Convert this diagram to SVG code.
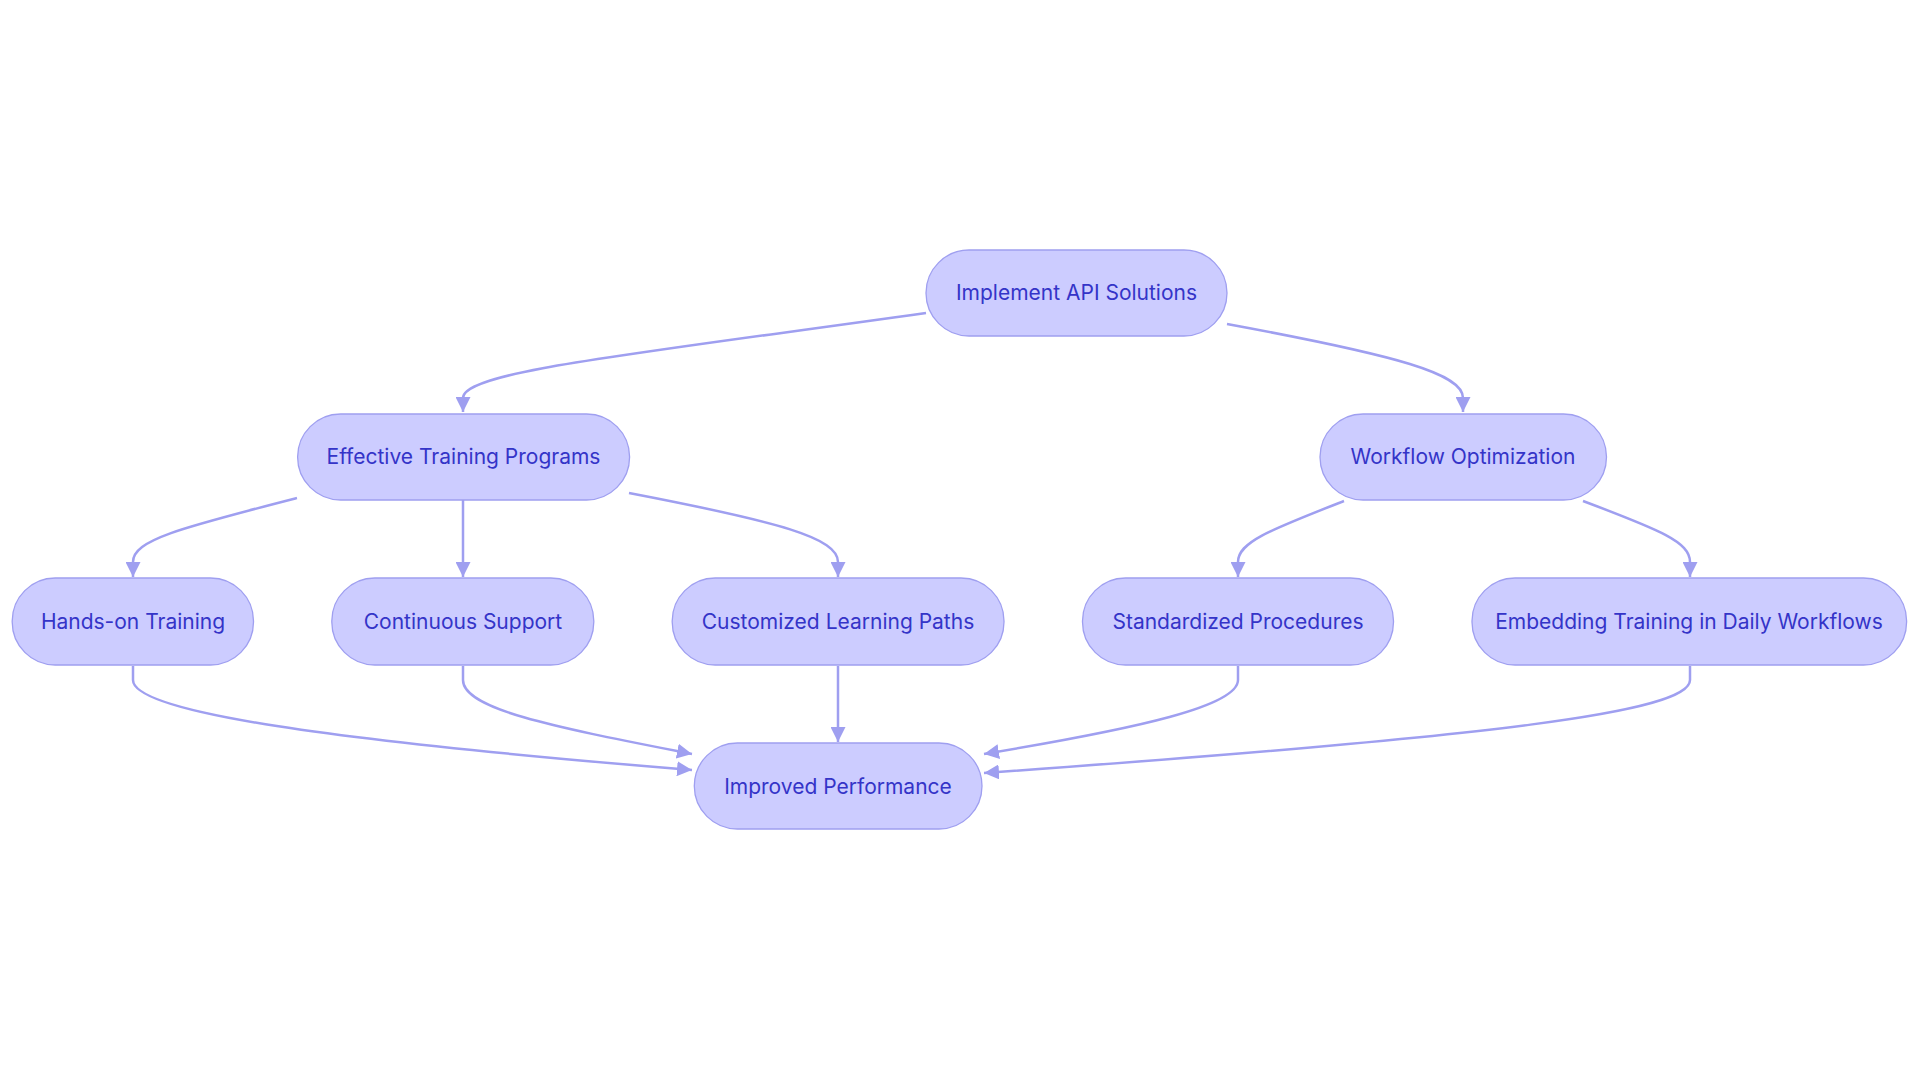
<svg xmlns="http://www.w3.org/2000/svg" width="1920" height="1083" viewBox="0 0 1920 1083">
<style>
.n rect{fill:#ccccff;stroke:#9f9ff0;stroke-width:1.3}
.n text{font-family:Inter,"Liberation Sans",sans-serif;font-size:21px;fill:#3434c8;text-anchor:middle;dominant-baseline:central}
.e path{fill:none;stroke:#9f9ff0;stroke-width:2.5;marker-end:url(#a)}
</style>
<defs><marker id="a" viewBox="0 0 10 10" refX="10" refY="5" markerWidth="6" markerHeight="6" orient="auto" markerUnits="strokeWidth"><path d="M0,0L10,5L0,10z" fill="#9f9ff0"/></marker></defs>
<rect width="1920" height="1083" fill="#fff"/>
<g class="e">
<path d="M926,313 C620,356 463,372 463,398 L463,412"/>
<path d="M1227,324 C1400,356 1463,374 1463,398 L1463,412"/>
<path d="M297,498 C180,528 133,540 133,562 L133,577"/>
<path d="M463,500 L463,577"/>
<path d="M629,493 C780,522 838,538 838,562 L838,577"/>
<path d="M1344,501 C1270,530 1238,542 1238,562 L1238,577"/>
<path d="M1583,501 C1660,530 1690,542 1690,562 L1690,577"/>
<path d="M133,666 L133,680 C133,710 300,738 692,770"/>
<path d="M463,666 L463,680 C463,710 560,728 692,754"/>
<path d="M838,666 L838,742"/>
<path d="M1238,666 L1238,680 C1238,706 1140,728 984,754"/>
<path d="M1690,666 L1690,680 C1690,712 1500,736 984,773"/>
</g>
<g class="n" id="n1"><rect x="926" y="250" width="301" height="86" rx="43"/><text x="1076.5" y="292">Implement API Solutions</text></g>
<g class="n" id="n2"><rect x="297.6" y="414" width="332" height="86" rx="43"/><text x="463.5" y="456">Effective Training Programs</text></g>
<g class="n" id="n3"><rect x="1320" y="414" width="286.5" height="86" rx="43"/><text x="1463" y="456">Workflow Optimization</text></g>
<g class="n" id="n4"><rect x="12.2" y="578" width="241.3" height="87" rx="43"/><text x="133" y="621">Hands-on Training</text></g>
<g class="n" id="n5"><rect x="331.8" y="578" width="262" height="87" rx="43"/><text x="463" y="621">Continuous Support</text></g>
<g class="n" id="n6"><rect x="672.2" y="578" width="331.8" height="87" rx="43"/><text x="838" y="621">Customized Learning Paths</text></g>
<g class="n" id="n7"><rect x="1082.5" y="578" width="311" height="87" rx="43"/><text x="1238" y="621">Standardized Procedures</text></g>
<g class="n" id="n8"><rect x="1472" y="578" width="434.6" height="87" rx="43"/><text x="1689" y="621">Embedding Training in Daily Workflows</text></g>
<g class="n" id="n9"><rect x="694.3" y="743" width="287.7" height="86" rx="43"/><text x="838" y="786">Improved Performance</text></g>
</svg>
